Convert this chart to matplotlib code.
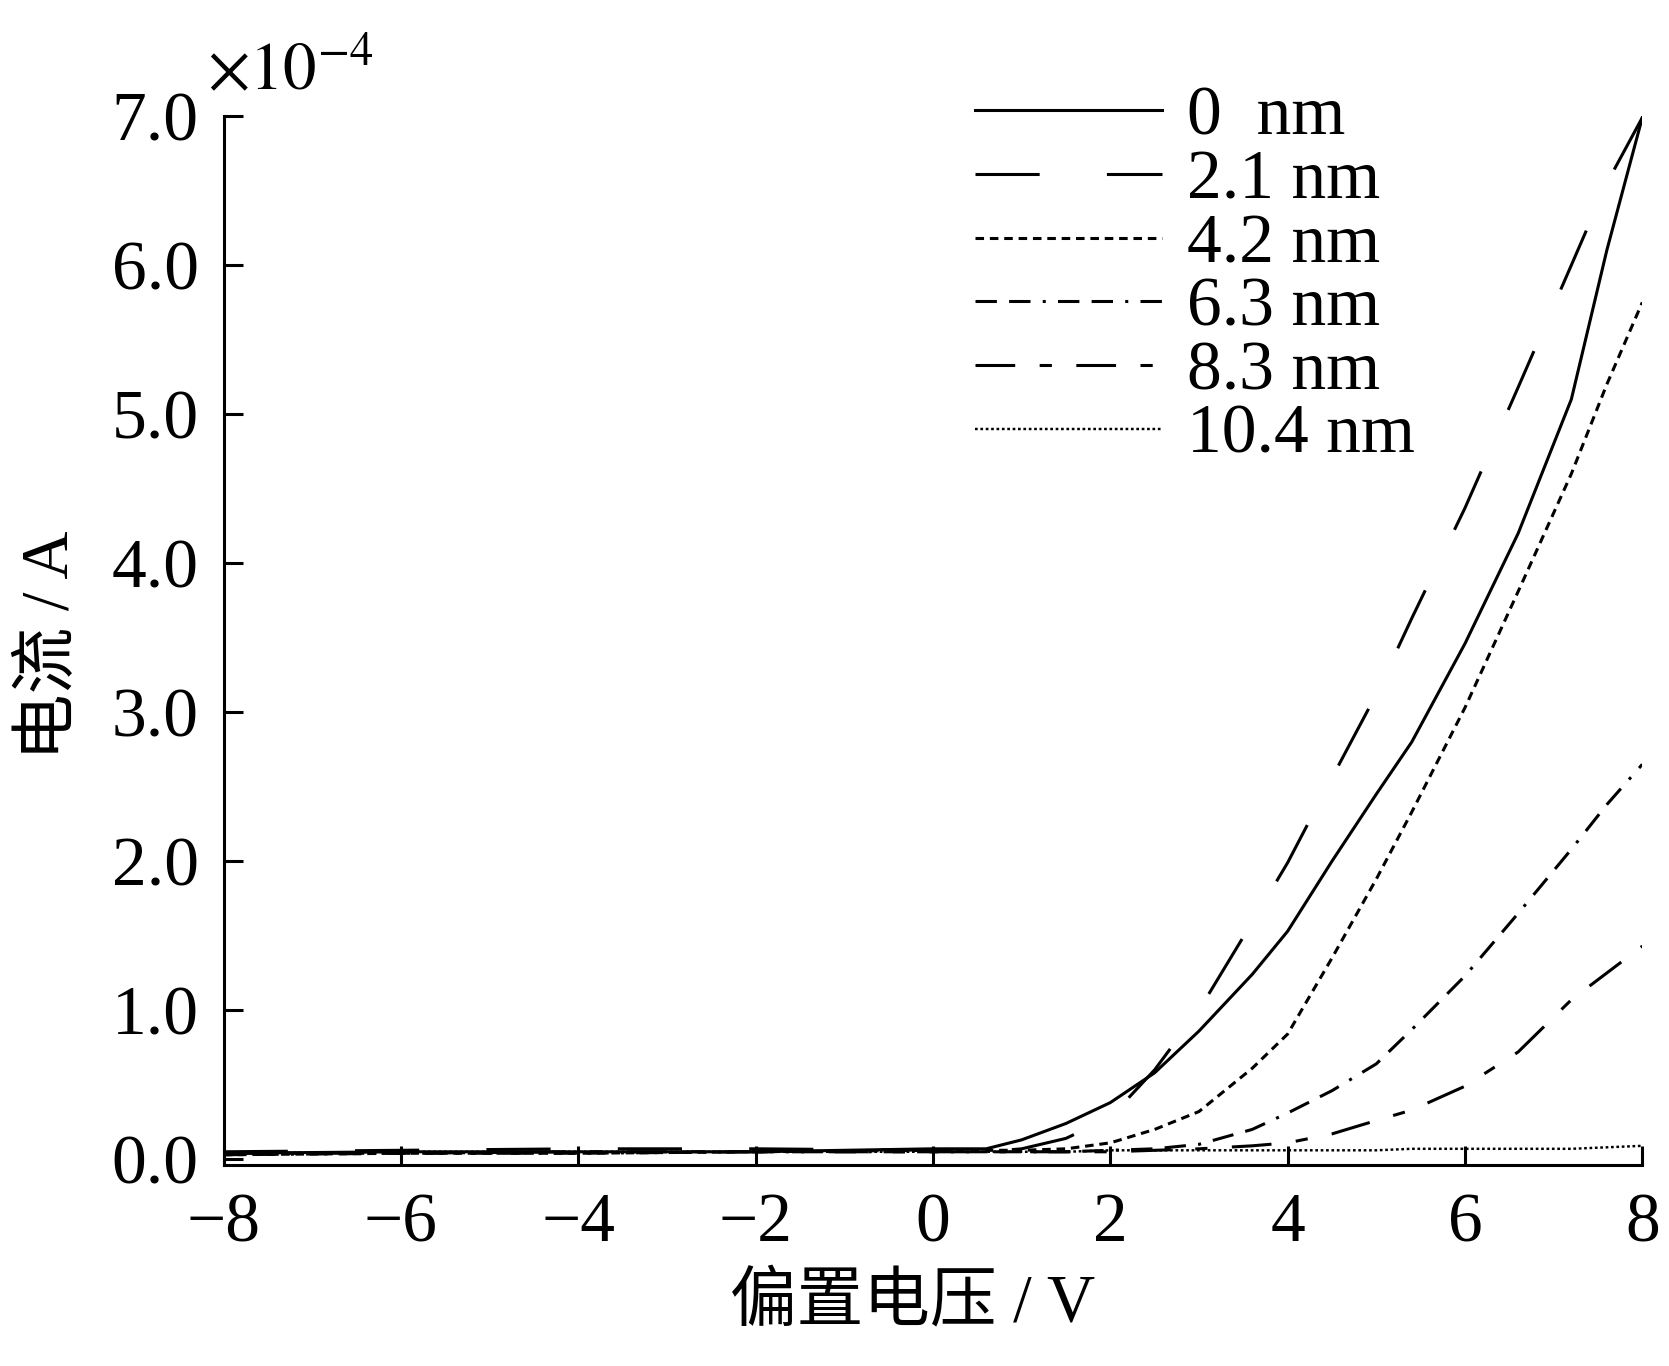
import matplotlib
matplotlib.use("Agg")
import matplotlib.pyplot as plt
from matplotlib.ticker import FormatStrFormatter

plt.rcParams["font.family"] = ["Liberation Serif", "Noto Sans CJK SC"]
plt.rcParams["mathtext.fontset"] = "stix"

# ─── Data (current in units of 1e-4 A) ───────────────────────────
bias_v = [-8, -6, -4, -2, 0, 0.6, 1.0, 1.5, 2.0, 2.5, 3.0, 3.6, 4.0, 4.5,
          5.0, 5.4, 6.0, 6.6, 7.2, 7.6, 8.0]

cur_0nm = [0.04, 0.05, 0.05, 0.05, 0.07, 0.07, 0.13, 0.24, 0.38, 0.58,
           0.86, 1.24, 1.53, 2.00, 2.45, 2.80, 3.46, 4.20, 5.10, 6.10, 6.99]
cur_2_1nm = [0.05, 0.06, 0.07, 0.07, 0.06, 0.05, 0.07, 0.14, 0.28, 0.60,
             1.00, 1.59, 1.99, 2.56, 3.12, 3.63, 4.37, 5.18, 6.00, 6.55, 6.99]
cur_4_2nm = [0.03, 0.04, 0.04, 0.05, 0.06, 0.06, 0.06, 0.07, 0.11, 0.20,
             0.32, 0.61, 0.84, 1.35, 1.88, 2.33, 3.03, 3.81, 4.60, 5.20, 5.75]
cur_6_3nm = [0.03, 0.04, 0.04, 0.05, 0.05, 0.05, 0.05, 0.05, 0.06, 0.07,
             0.10, 0.20, 0.31, 0.46, 0.64, 0.87, 1.23, 1.65, 2.08, 2.38, 2.65]
cur_8_3nm = [0.04, 0.04, 0.05, 0.05, 0.05, 0.05, 0.05, 0.05, 0.05, 0.06,
             0.07, 0.09, 0.11, 0.17, 0.26, 0.33, 0.49, 0.72, 1.07, 1.25, 1.43]
cur_10_4nm = [0.04, 0.05, 0.05, 0.05, 0.05, 0.05, 0.05, 0.05, 0.06, 0.06,
              0.06, 0.06, 0.06, 0.06, 0.06, 0.07, 0.07, 0.07, 0.07, 0.08, 0.09]

labels = ["0  nm", "2.1 nm", "4.2 nm", "6.3 nm", "8.3 nm", "10.4 nm"]

x_ticks = [-8, -6, -4, -2, 0, 2, 4, 6, 8]
y_ticks = [0.0, 1.0, 2.0, 3.0, 4.0, 5.0, 6.0, 7.0]

# ─── Figure ──────────────────────────────────────────────────────
fig = plt.figure(figsize=(16.69, 13.66), dpi=100)
ax = fig.add_axes([0.134, 0.147, 0.850, 0.768])

lw = 2.2
ax.plot(bias_v, cur_0nm, color="black", lw=lw, linestyle="-", label=labels[0])
ax.plot(bias_v, cur_2_1nm, color="black", lw=lw, dashes=(21, 22), label=labels[1])
ax.plot(bias_v, cur_4_2nm, color="black", lw=lw, dashes=(2.8, 1.9), label=labels[2])
ax.plot(bias_v, cur_6_3nm, color="black", lw=lw, dashes=(7, 4, 7, 4, 1, 4), label=labels[3])
ax.plot(bias_v, cur_8_3nm, color="black", lw=lw, dashes=(13, 8, 4, 8), label=labels[4])
ax.plot(bias_v, cur_10_4nm, color="black", lw=lw * 0.8, dashes=(1.1, 1.1), label=labels[5])

ax.set_xlim(-8, 8)
ax.set_ylim(-0.04, 7.0)
ax.set_xticks(x_ticks)
ax.set_yticks(y_ticks)
ax.yaxis.set_major_formatter(FormatStrFormatter("%.1f"))

for side in ["top", "right"]:
    ax.spines[side].set_visible(False)
for side in ["left", "bottom"]:
    ax.spines[side].set_linewidth(2.2)

ax.tick_params(axis="both", direction="in", length=14, width=2.2,
               labelsize=50)
ax.tick_params(axis="x", pad=20)
ax.tick_params(axis="y", pad=18)

# axis titles
fig.text(0.547, 0.045, "偏置电压 / V", fontsize=48, ha="center", va="center")
fig.text(0.031, 0.528, "电流 / A", fontsize=48, rotation=90,
         ha="center", va="center")
ax.text(-0.012, 1.012, r"$\times10^{-4}$", transform=ax.transAxes,
        fontsize=48, ha="left", va="bottom")

leg = ax.legend(loc="upper left", bbox_to_anchor=(0.51, 1.055),
                frameon=False, fontsize=50, handlelength=2.7,
                handletextpad=0.35, labelspacing=0.0, borderaxespad=0)

fig.savefig("out.png", dpi=100)
